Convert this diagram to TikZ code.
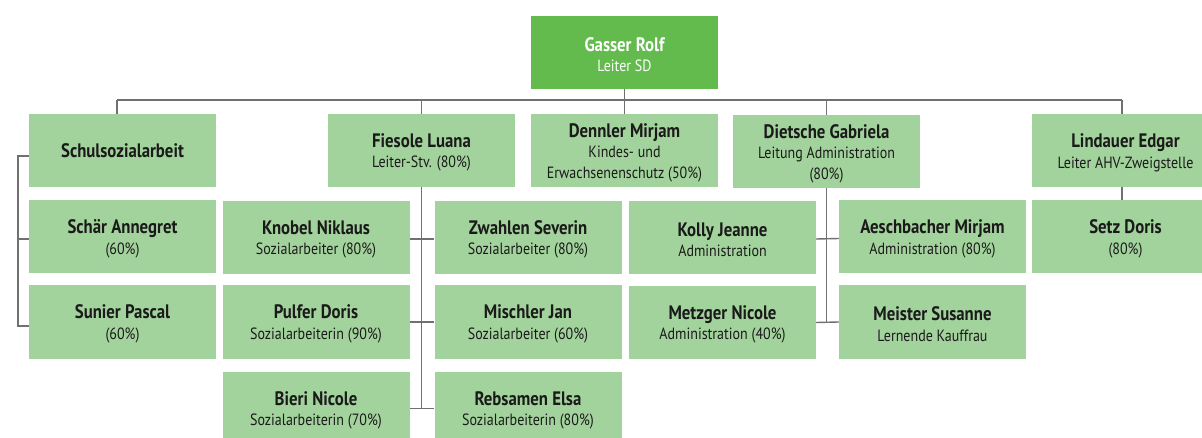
\documentclass[tikz,border=0pt]{standalone}
\usepackage{fontspec}
\setmainfont{PT Sans}[FakeStretch=0.86]
\definecolor{boxgreen}{HTML}{A3D39C}
\definecolor{topgreen}{HTML}{62BB4C}
\definecolor{linegray}{HTML}{707070}
\definecolor{txt}{HTML}{1A1A1A}
\newcommand{\nm}[1]{{\fontsize{19.5}{20.5}\selectfont\bfseries\rule{0pt}{18pt}#1}}
\newcommand{\nmsingle}[1]{{\fontsize{19.5}{20.5}\selectfont\bfseries #1}}
\tikzset{
  orgbox/.style={fill=boxgreen, minimum width=187, minimum height=73, inner sep=0pt,
    align=center, text=txt, font=\fontsize{16.3}{20.5}\selectfont},
  topbox/.style={orgbox, fill=topgreen, text=white},
  conn/.style={draw=linegray, line width=1.4pt}
}
\begin{document}
\begin{tikzpicture}[x=1pt,y=-1pt]
\useasboundingbox (0,0) rectangle (1202,438);
\clip (0,0) rectangle (1202,438);
% top
\node[topbox] (gasser) at (624.5,52.5) {\nm{Gasser Rolf}\\Leiter SD};
% row 1
\node[orgbox] (schul) at (122.5,151) {\nmsingle{Schulsozialarbeit}};
\node[orgbox] (fiesole) at (421.5,150.5) {\nm{Fiesole Luana}\\Leiter-Stv. (80\%)};
\node[orgbox] (dennler) at (624.5,150.5) {\nm{Dennler Mirjam}\\Kindes- und\\Erwachsenenschutz (50\%)};
\node[orgbox] (dietsche) at (826.5,151.5) {\nm{Dietsche Gabriela}\\Leitung Administration\\(80\%)};
\node[orgbox] (lindauer) at (1125.5,150.5) {\nm{Lindauer Edgar}\\Leiter AHV-Zweigstelle};
% row 2
\node[orgbox] (schaer) at (122.5,237) {\nm{Schär Annegret}\\(60\%)};
\node[orgbox] (knobel) at (316,237.5) {\nm{Knobel Niklaus}\\Sozialarbeiter (80\%)};
\node[orgbox] (zwahlen) at (528,237.5) {\nm{Zwahlen Severin}\\Sozialarbeiter (80\%)};
\node[orgbox] (kolly) at (722.5,237.5) {\nm{Kolly Jeanne}\\Administration};
\node[orgbox] (aesch) at (932.5,237) {\nm{Aeschbacher Mirjam}\\Administration (80\%)};
\node[orgbox] (setz) at (1125.5,237) {\nm{Setz Doris}\\(80\%)};
% row 3
\node[orgbox] (sunier) at (122.5,322) {\nm{Sunier Pascal}\\(60\%)};
\node[orgbox] (pulfer) at (316,322) {\nm{Pulfer Doris}\\Sozialarbeiterin (90\%)};
\node[orgbox] (mischler) at (528,322) {\nm{Mischler Jan}\\Sozialarbeiter (60\%)};
\node[orgbox] (metzger) at (722.5,322.5) {\nm{Metzger Nicole}\\Administration (40\%)};
\node[orgbox] (meister) at (932.5,322) {\nm{Meister Susanne}\\Lernende Kauffrau};
% row 4
\node[orgbox] (bieri) at (316,408.5) {\nm{Bieri Nicole}\\Sozialarbeiterin (70\%)};
\node[orgbox] (rebsamen) at (528,408.5) {\nm{Rebsamen Elsa}\\Sozialarbeiterin (80\%)};
% connectors
\coordinate (bL) at (117,100);
\coordinate (bR) at (1122,100);
\coordinate (sx) at (18,0);
\draw[conn] (bL) -- (bR);
\draw[conn] (bL) -- (bL |- schul.north);
\draw[conn] (gasser.south) -- (dennler.north);
\draw[conn] (fiesole.north) -- (fiesole.north |- bL);
\draw[conn] (dietsche.north) -- (dietsche.north |- bL);
\draw[conn] (bR) -- (bR |- lindauer.north);
\draw[conn] (bR |- lindauer.south) -- (bR |- setz.north);
% Schulsozialarbeit bracket
\draw[conn] ([yshift=-5pt]schul.west) -- ([yshift=-5pt]schul.west -| sx) |- ([yshift=-4pt]sunier.west);
\draw[conn] ([yshift=-2pt]schaer.west) -- ([yshift=-2pt]schaer.west -| sx);
% Fiesole trunk
\draw[conn] (fiesole.south) -- (fiesole.south |- bieri.east);
\draw[conn] ([yshift=-1.5pt]knobel.east) -- ([yshift=-1.5pt]zwahlen.west);
\draw[conn] (pulfer.east) -- (mischler.west);
\draw[conn] (bieri.east) -- (rebsamen.west);
% Dietsche trunk
\draw[conn] (dietsche.south) -- (dietsche.south |- metzger.east);
\draw[conn] ([yshift=-1.5pt]kolly.east) -- ([yshift=-1.5pt]aesch.west);
\draw[conn] (metzger.east) -- (meister.west);
\end{tikzpicture}
\end{document}
